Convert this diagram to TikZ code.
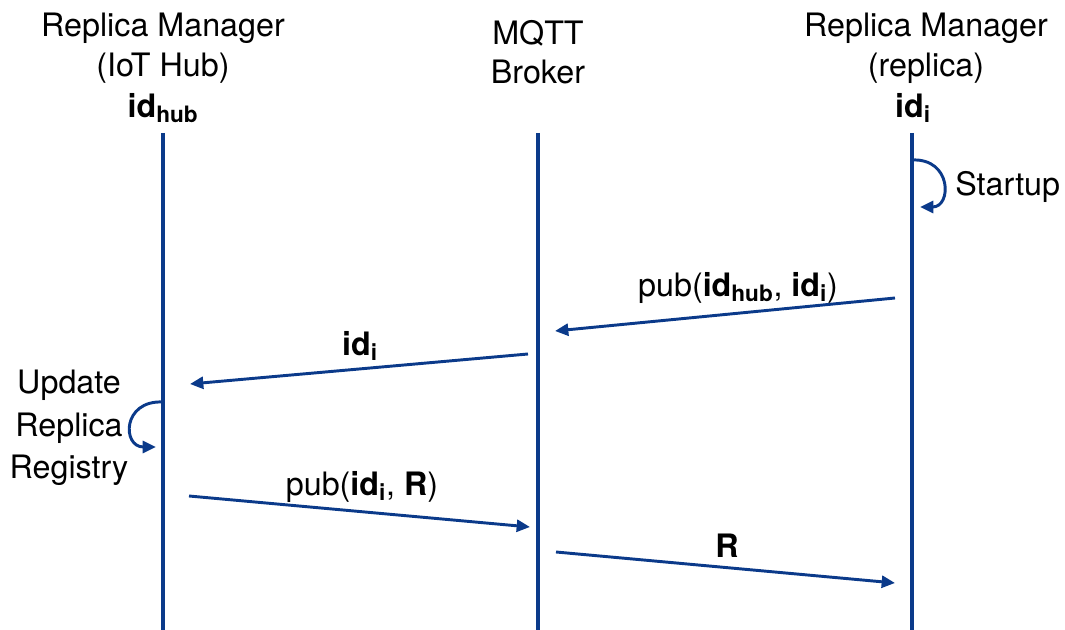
\documentclass[tikz,border=0pt]{standalone}
\usepackage{fontspec}
\setmainfont{TeX Gyre Heros}
\usetikzlibrary{arrows.meta}
\definecolor{seqblue}{HTML}{0B3A8A}
\newcommand{\ident}[1]{\textbf{id}\textsubscript{\textbf{#1}}}
\tikzset{
  lifeline/.style={draw=seqblue, line width=2.6pt},
  msg/.style={draw=seqblue, line width=2.2pt, -{Triangle[length=10pt,width=9pt]}},
  lbl/.style={font=\fontsize{24.2}{28}\selectfont, inner sep=0pt, text=black},
}
\begin{document}
\begin{tikzpicture}[x=0.75pt, y=-0.75pt]
\useasboundingbox (0,0) rectangle (1065,630);

% participant headings
\node[lbl] (hubA) at (163,28) {Replica Manager};
\node[lbl] (hubB) at (163,68) {(IoT Hub)};
\node[lbl] (hubC) at (163,108) {\ident{hub}};
\node[lbl] (brkA) at (538,33) {MQTT};
\node[lbl] (brkB) at (538,72) {Broker};
\node[lbl] (repA) at (926,28) {Replica Manager};
\node[lbl] (repB) at (926,68) {(replica)};
\node[lbl] (repC) at (913,108) {\ident{i}};

% lifelines
\coordinate (hubTop) at (163,133);  \coordinate (hubBot) at (163,630);
\coordinate (brkTop) at (538,133);  \coordinate (brkBot) at (538,630);
\coordinate (repTop) at (912,133);  \coordinate (repBot) at (912,630);
\draw[lifeline] (hubTop) -- (hubBot);
\draw[lifeline] (brkTop) -- (brkBot);
\draw[lifeline] (repTop) -- (repBot);

% startup on the replica
\coordinate (su0) at (912,160);
\coordinate (su1) at (920,207);
\draw[msg] (su0) .. controls (952,158) and (952,207) .. (su1);
\node[lbl, anchor=west] (startup) at (955,187) {Startup};

% replica publishes its id
\coordinate (m1a) at (895,298);
\coordinate (m1b) at (555,331);
\draw[msg] (m1a) -- (m1b);
\node[lbl] (m1lbl) at (738,288) {pub(\ident{hub}, \ident{i})};

% broker forwards id to hub
\coordinate (m2a) at (528,354);
\coordinate (m2b) at (190,384);
\draw[msg] (m2a) -- (m2b);
\node[lbl] (m2lbl) at (360,346) {\ident{i}};

% hub updates its registry
\coordinate (up0) at (163,402);
\coordinate (up1) at (156,447);
\draw[msg] (up0) .. controls (122,400) and (122,447) .. (up1);
\node[lbl, align=center] (update) at (69,428) {Update\\[4pt]Replica\\[4pt]Registry};

% hub publishes R
\coordinate (m3a) at (189,496);
\coordinate (m3b) at (530,527);
\draw[msg] (m3a) -- (m3b);
\node[lbl] (m3lbl) at (362,487) {pub(\ident{i}, \textbf{R})};

% broker delivers R to the replica
\coordinate (m4a) at (556,552);
\coordinate (m4b) at (895,583);
\draw[msg] (m4a) -- (m4b);
\node[lbl] (m4lbl) at (727,546) {\textbf{R}};
\end{tikzpicture}
\end{document}
